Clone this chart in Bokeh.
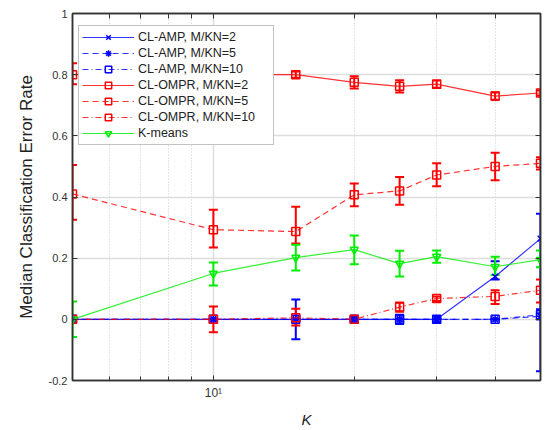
from bokeh.plotting import figure
from bokeh.models import (ColumnDataSource, Whisker, TeeHead, LogAxis, LinearAxis,
                          Legend, LegendItem, FixedTicker)
from bokeh.embed import file_html
from bokeh.resources import INLINE

K = [5, 10, 15, 20, 25, 30, 40, 50]

amp2 = [0, 0, 0, 0, 0, 0, 0.14, 0.264]
amp2_lo = [0, 0, -0.065, 0, -0.015, -0.01, 0.13, -0.17]
amp2_hi = [0, 0, 0.065, 0, 0.015, 0.01, 0.19, 0.345]

amp5 = [0, 0, 0, 0, 0, 0, 0, 0.01]
amp5_lo = [0, 0, 0, 0, 0, 0, 0, 0.0]
amp5_hi = [0, 0, 0, 0, 0, 0, 0, 0.02]

amp10 = [0, 0, 0, 0, 0, 0, 0, 0.015]
amp10_lo = [0, 0, 0, 0, 0, 0, 0, 0.0]
amp10_hi = [0, 0, 0, 0, 0, 0, 0, 0.033]

ompr2 = [0.80, 0.80, 0.80, 0.775, 0.762, 0.769, 0.73, 0.74]
ompr2_lo = [0.769, 0.78, 0.79, 0.755, 0.742, 0.757, 0.718, 0.732]
ompr2_hi = [0.837, 0.82, 0.81, 0.795, 0.782, 0.781, 0.742, 0.748]

ompr5 = [0.41, 0.293, 0.287, 0.407, 0.42, 0.472, 0.50, 0.51]
ompr5_lo = [0.326, 0.235, 0.248, 0.37, 0.375, 0.435, 0.455, 0.49]
ompr5_hi = [0.505, 0.358, 0.368, 0.444, 0.465, 0.51, 0.545, 0.53]

ompr10 = [0, 0, 0.005, 0, 0.04, 0.068, 0.075, 0.095]
ompr10_lo = [0, -0.042, -0.02, -0.008, 0.025, 0.06, 0.05, 0.055]
ompr10_hi = [0, 0.042, 0.035, 0.008, 0.055, 0.075, 0.095, 0.13]

kmeans = [0, 0.15, 0.202, 0.228, 0.182, 0.205, 0.172, 0.195]
kmeans_lo = [-0.058, 0.111, 0.16, 0.18, 0.14, 0.185, 0.145, 0.17]
kmeans_hi = [0.058, 0.186, 0.244, 0.274, 0.224, 0.225, 0.205, 0.225]

labels = ["CL-AMP, M/KN=2", "CL-AMP, M/KN=5", "CL-AMP, M/KN=10",
          "CL-OMPR, M/KN=2", "CL-OMPR, M/KN=5", "CL-OMPR, M/KN=10", "K-means"]

y_ticks = [-0.2, 0, 0.2, 0.4, 0.6, 0.8, 1.0]
y_tick_labels = ["-0.2", "0", "0.2", "0.4", "0.6", "0.8", "1"]
x_major = [10]
x_major_labels = ["10¹"]
x_minor = [6, 7, 8, 9, 20, 30, 40]

FONT = "Liberation Sans"
AX = "#333333"

p = figure(width=545, height=430, x_axis_type="log", x_range=(5, 50), y_range=(-0.2, 1),
           output_backend="svg", toolbar_location=None,
           min_border_left=72, min_border_right=5, min_border_top=13, min_border_bottom=50)
p.background_fill_color = "white"
p.outline_line_color = AX
p.outline_line_width = 1.5

for ax in (p.xaxis[0], p.yaxis[0]):
    ax.major_tick_in = 5
    ax.major_tick_out = 0
    ax.minor_tick_in = 0
    ax.minor_tick_out = 0
    ax.axis_line_color = AX
    ax.axis_line_width = 1.5
    ax.major_tick_line_color = AX
    ax.major_label_text_font = FONT
    ax.major_label_text_font_size = "11px"
    ax.major_label_text_color = AX
    ax.axis_label_text_font = FONT
    ax.axis_label_text_color = "#222222"

p.xaxis[0].ticker = FixedTicker(ticks=x_major, minor_ticks=x_minor)
p.xaxis[0].minor_tick_in = 4
p.xaxis[0].minor_tick_line_color = AX
p.xaxis[0].major_label_overrides = {t: s for t, s in zip(x_major, x_major_labels)}
p.xaxis[0].major_label_text_font_size = "12px"
p.xaxis[0].axis_label = "K"
p.xaxis[0].axis_label_text_font_style = "italic"
p.xaxis[0].axis_label_text_font_size = "15px"
p.xaxis[0].axis_label_standoff = 8

p.yaxis[0].ticker = FixedTicker(ticks=y_ticks)
p.yaxis[0].major_label_overrides = {t: s for t, s in zip(y_ticks, y_tick_labels)}
p.yaxis[0].axis_label = "Median Classification Error Rate"
p.yaxis[0].axis_label_text_font_style = "normal"
p.yaxis[0].axis_label_text_font_size = "17px"
p.yaxis[0].axis_label_standoff = 10

top_ax = LogAxis(ticker=FixedTicker(ticks=x_major + x_minor),
                 major_label_text_alpha=0, major_label_text_font_size="6px",
                 major_tick_in=5, major_tick_out=0, minor_tick_in=0, minor_tick_out=0,
                 axis_line_color=AX, axis_line_width=1.5, major_tick_line_color=AX)
p.add_layout(top_ax, "above")
right_ax = LinearAxis(ticker=FixedTicker(ticks=y_ticks),
                      major_label_text_alpha=0, major_label_text_font_size="6px",
                      major_tick_in=5, major_tick_out=0, minor_tick_in=0, minor_tick_out=0,
                      axis_line_color=AX, axis_line_width=1.5, major_tick_line_color=AX)
p.add_layout(right_ax, "right")

p.xgrid.grid_line_color = "#dddddd"
p.xgrid.grid_line_width = 1.5
p.xgrid.minor_grid_line_color = "#c8c8c8"
p.xgrid.minor_grid_line_dash = "1 2"
p.ygrid.grid_line_color = "#dddddd"
p.ygrid.grid_line_width = 1.5

series = [
    (amp2, amp2_lo, amp2_hi, "#0000ff", "solid", "x"),
    (amp5, amp5_lo, amp5_hi, "#0000ff", "6 4", "asterisk"),
    (amp10, amp10_lo, amp10_hi, "#0000ff", "6 3 1 3", "square"),
    (ompr2, ompr2_lo, ompr2_hi, "#ff0000", "solid", "square"),
    (ompr5, ompr5_lo, ompr5_hi, "#ff0000", "6 4", "square"),
    (ompr10, ompr10_lo, ompr10_hi, "#ff0000", "6 3 1 3", "square"),
    (kmeans, kmeans_lo, kmeans_hi, "#00ee00", "solid", "inverted_triangle"),
]

items = []
for (y, lo, hi, col, dash, mk), lab in zip(series, labels):
    src = ColumnDataSource(dict(x=K, y=y, lo=lo, hi=hi))
    ln = p.line("x", "y", source=src, line_color=col, line_width=1.2, line_dash=dash, line_alpha=0.8)
    w = Whisker(base="x", lower="lo", upper="hi", source=src, line_color=col, line_width=2,
                upper_head=TeeHead(size=9, line_color=col, line_width=2),
                lower_head=TeeHead(size=9, line_color=col, line_width=2))
    p.add_layout(w)
    sc = p.scatter("x", "y", source=src, marker=mk, size=8, line_color=col, fill_color=None,
                   line_width=1.5)
    items.append(LegendItem(label=lab, renderers=[ln, sc]))

legend = Legend(items=items, location=(6, 235), label_text_font=FONT, label_text_font_size="12.5px",
                label_text_color="#222222", glyph_width=52, glyph_height=16, label_height=16,
                label_width=132, spacing=0, padding=3, margin=0, label_standoff=4,
                border_line_color="#888888", border_line_width=1, background_fill_alpha=1)
p.add_layout(legend, "center")

open("out.html", "w").write(file_html(p, INLINE))
